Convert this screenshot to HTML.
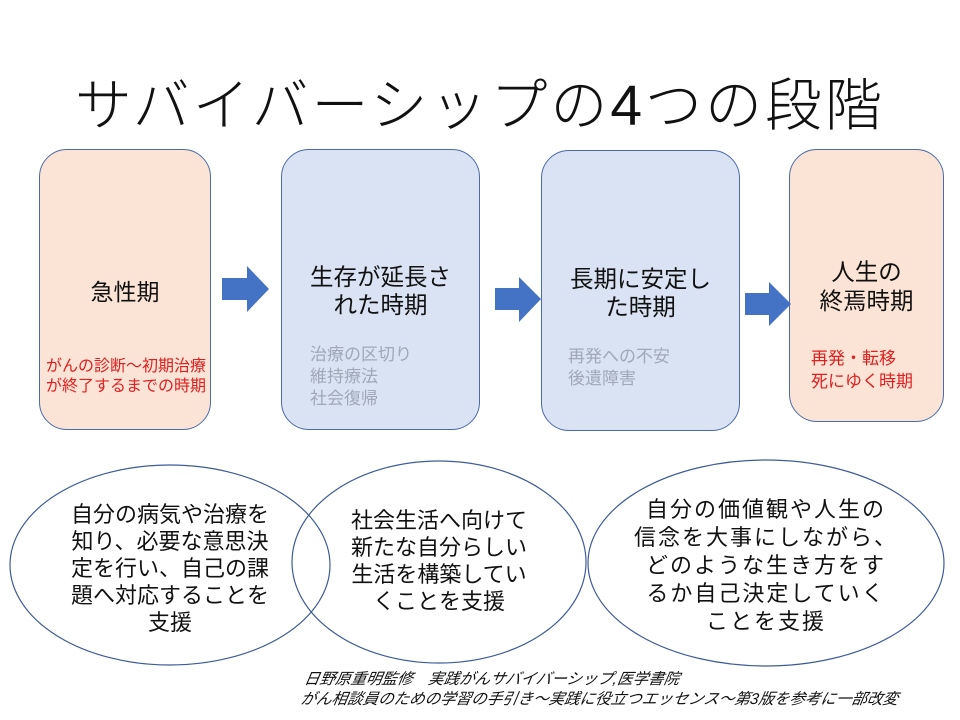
<!DOCTYPE html>
<html><head><meta charset="utf-8"><style>
body{margin:0;width:960px;height:720px;background:#fff;position:relative;overflow:hidden;font-family:"Liberation Sans","Noto Sans CJK JP",sans-serif}
.t{position:absolute;white-space:nowrap;line-height:1}
.box{position:absolute;border:1.3px solid #4a6aa8;border-radius:28px;box-sizing:border-box}
.p{background:#fbe4d6}.b{background:#dae3f3}
.c{text-align:center}
</style></head><body>
<div class="t" style="left:60px;top:78px;width:840px;text-align:center;font-size:57px;letter-spacing:3px;color:#111;font-weight:300">サバイバーシップの4つの段階</div>

<div class="box p" style="left:39px;top:149px;width:172px;height:281px"></div>
<div class="box b" style="left:281px;top:149px;width:199px;height:281px"></div>
<div class="box b" style="left:541px;top:150px;width:199px;height:281px"></div>
<div class="box p" style="left:789px;top:149px;width:155px;height:273px"></div>

<svg style="position:absolute;left:0;top:0" width="960" height="720">
<polygon points="222,278 247,278 247,266 269,289 247,312 247,300 222,300" fill="#4472c4"/>
<polygon points="495,288 519,288 519,277 541,299 519,322 519,310 495,310" fill="#4472c4"/>
<polygon points="745,293 769,293 769,282 791,304 769,326 769,315 745,315" fill="#4472c4"/>
<ellipse cx="170" cy="565" rx="160" ry="100" fill="none" stroke="#3f5c97" stroke-width="1.2"/>
<ellipse cx="439" cy="562" rx="147" ry="101" fill="none" stroke="#3f5c97" stroke-width="1.2"/>
<ellipse cx="766" cy="563" rx="178" ry="103" fill="none" stroke="#3f5c97" stroke-width="1.2"/>
</svg>

<div class="t c" style="left:39px;top:281px;width:172px;font-size:23px;color:#111">急性期</div>
<div class="t" style="left:46px;top:357px;font-size:16px;line-height:20px;color:#e02020">がんの診断～初期治療<br>が終了するまでの時期</div>

<div class="t c" style="left:281px;top:263px;width:199px;font-size:23.5px;line-height:28px;color:#111">生存が延長さ<br>れた時期</div>
<div class="t" style="left:310px;top:344px;font-size:17px;line-height:22px;color:#a0a8b8">治療の区切り<br>維持療法<br>社会復帰</div>

<div class="t c" style="left:541px;top:265px;width:199px;font-size:23.5px;line-height:28px;color:#111">長期に安定し<br>た時期</div>
<div class="t" style="left:568px;top:346px;font-size:17px;line-height:22px;color:#a0a8b8">再発への不安<br>後遺障害</div>

<div class="t c" style="left:789px;top:258px;width:155px;font-size:23.5px;line-height:29px;color:#111">人生の<br>終焉時期</div>
<div class="t" style="left:811px;top:347px;font-size:17px;line-height:23px;color:#e02020">再発・転移<br>死にゆく時期</div>

<div class="t c" style="left:20px;top:501px;width:300px;font-size:22px;line-height:27px;color:#111">自分の病気や治療を<br>知り、必要な意思決<br>定を行い、自己の課<br>題へ対応することを<br>支援</div>
<div class="t c" style="left:300px;top:507px;width:278px;font-size:22px;line-height:27px;color:#111">社会生活へ向けて<br>新たな自分らしい<br>生活を構築してい<br>くことを支援</div>
<div class="t c" style="left:600px;top:496px;width:332px;font-size:22px;letter-spacing:2px;line-height:28px;color:#111">自分の価値観や人生の<br>信念を大事にしながら、<br>どのような生き方をす<br>るか自己決定していく<br>ことを支援</div>

<div class="t" style="left:306px;top:670px;font-size:15.5px;line-height:20px;color:#111;font-style:italic;transform:skewX(-10deg);transform-origin:left top">日野原重明監修　実践がんサバイバーシップ,医学書院<br>がん相談員のための学習の手引き～実践に役立つエッセンス～第3版を参考に一部改変</div>
</body></html>
